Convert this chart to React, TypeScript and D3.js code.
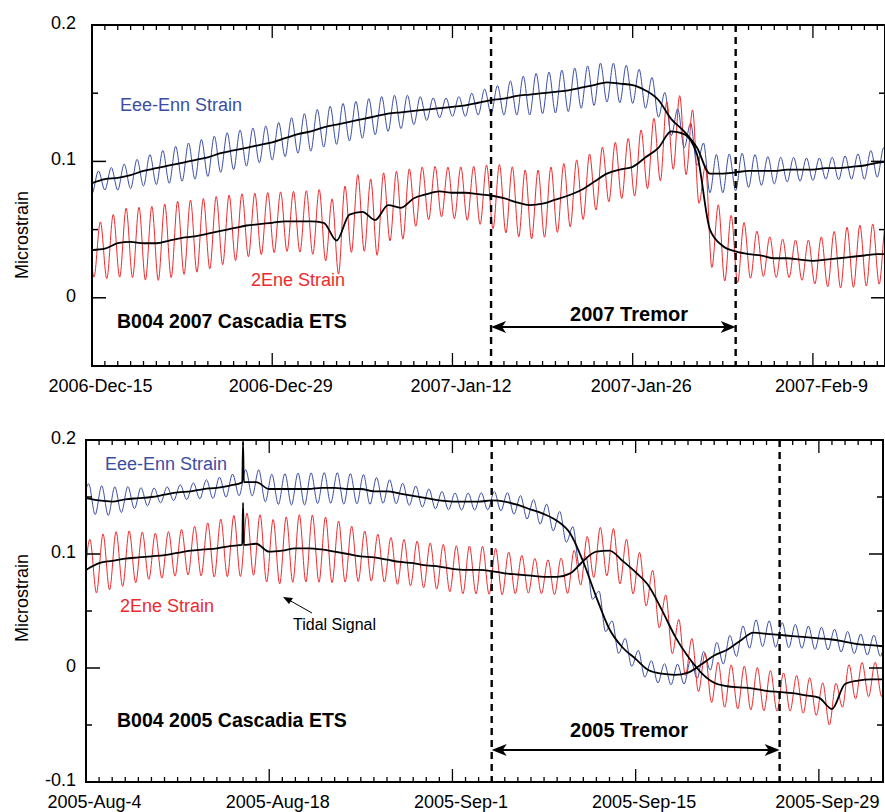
import React, { useEffect, useRef } from 'react'
import * as d3 from 'd3'

// all strain values in nanostrain (1e-3 microstrain), one value per day from the panel's first day

// 2007 panel, first day 2006-Dec-15
const eeTrend2007 = [
  84, 87, 88, 90, 93, 95, 97, 99, 101, 103,
  106, 108, 110, 112, 114, 117, 120, 122, 125, 127,
  129, 131, 133, 135, 136, 137, 138, 139, 140, 141,
  143, 145, 146, 148, 149, 150, 151, 152, 154, 156,
  158, 157, 156, 152, 145, 131, 122, 110, 91, 91,
  92, 93, 93, 93, 94, 94, 94, 95, 95, 96,
  97, 99, 100,
]
// tidal peak-to-trough range for each day
const eeRange2007 = [
  15, 16, 18, 20, 22, 24, 26, 27, 28, 28,
  28, 28, 27, 26, 26, 27, 28, 29, 29, 29,
  28, 28, 27, 26, 24, 20, 16, 14, 14, 16,
  18, 20, 24, 28, 30, 30, 31, 31, 30, 30,
  29, 28, 27, 26, 25, 24, 24, 26, 28, 28,
  27, 24, 21, 19, 18, 17, 16, 16, 17, 18,
  20, 21, 22,
]
const neTrend2007 = [
  35, 36, 40, 41, 40, 40, 42, 44, 45, 47,
  49, 51, 53, 54, 55, 56, 56, 56, 55, 42,
  61, 63, 57, 68, 66, 73, 76, 78, 77, 77,
  76, 75, 73, 70, 68, 69, 72, 75, 79, 85,
  91, 94, 96, 103, 110, 122, 120, 105, 50, 38,
  34, 32, 31, 29, 29, 28, 27, 28, 29, 30,
  31, 32, 32,
]
const neRange2007 = [
  40, 45, 50, 52, 54, 55, 55, 54, 53, 52,
  50, 48, 46, 45, 44, 44, 45, 48, 52, 55,
  56, 56, 55, 52, 48, 42, 38, 37, 38, 40,
  44, 48, 50, 50, 50, 50, 49, 47, 45, 43,
  42, 43, 45, 48, 52, 55, 55, 55, 52, 50,
  45, 35, 30, 28, 28, 30, 34, 40, 44, 45,
  45, 44, 44,
]

// 2005 panel, first day 2005-Aug-4
const eeTrend2005 = [
  149, 147, 146, 148, 149, 150, 152, 154, 155, 157,
  158, 160, 163, 163, 157, 157, 157, 157, 158, 158,
  157, 157, 155, 155, 153, 151, 149, 147, 146, 146,
  146, 147, 146, 143, 139, 135, 129, 118, 93, 62,
  34, 18, 8, -2, -5, -6, -4, 3, 11, 16,
  24, 31, 30, 29, 28, 27, 26, 25, 23, 21,
  20, 19,
]
const eeRange2005 = [
  26, 25, 22, 18, 15, 13, 13, 14, 16, 18,
  19, 22, 24, 26, 27, 28, 28, 27, 27, 27,
  26, 24, 21, 19, 18, 17, 16, 15, 15, 15,
  16, 17, 18, 19, 20, 21, 22, 22, 22, 21,
  20, 19, 18, 18, 18, 19, 20, 21, 22, 23,
  23, 23, 22, 21, 20, 20, 19, 19, 18, 18,
  18, 18,
]
const neTrend2005 = [
  86, 92, 94, 96, 97, 98, 99, 101, 103, 104,
  105, 107, 108, 109, 102, 103, 105, 105, 104, 102,
  100, 98, 97, 95, 93, 92, 90, 89, 87, 86,
  86, 85, 83, 82, 81, 80, 80, 83, 94, 102,
  103, 94, 84, 72, 51, 28, 10, -4, -13, -16,
  -17, -18, -20, -21, -22, -24, -26, -36, -14, -11,
  -10, -10,
]
const neRange2005 = [
  50, 50, 48, 44, 40, 40, 40, 42, 46, 50,
  53, 55, 55, 56, 58, 59, 59, 58, 55, 50,
  45, 42, 40, 40, 40, 40, 40, 41, 42, 42,
  41, 38, 34, 31, 30, 31, 34, 38, 42, 44,
  44, 42, 40, 40, 40, 40, 39, 38, 38, 38,
  38, 36, 34, 32, 32, 32, 32, 32, 31, 30,
  30, 30,
]
// instrument offset spike in the 2005 record
const spikeDays2005 = [12]
const eeSpike2005 = [198]
const neSpike2005 = [145]

const yTicks2007 = [-0.05, 0, 0.05, 0.1, 0.15, 0.2]
const yMajor2007 = [0, 0.1, 0.2]
const yTickLabels2007 = ['0', '0.1', '0.2']
const yTicks2005 = [-0.1, -0.05, 0, 0.05, 0.1, 0.15, 0.2]
const yMajor2005 = [-0.1, 0, 0.1, 0.2]
const yTickLabels2005 = ['-0.1', '0', '0.1', '0.2']

const tremor2007 = ['2007-01-15', '2007-02-03']
const tremor2005 = ['2005-09-04', '2005-09-26']

const BLUE = '#3b4ea3'
const RED = '#ee2a2e'
const FONT = '"Liberation Sans", Arial, Helvetica, sans-serif'
const DAY = 864e5

interface Series { trend: number[], range: number[], phase: number, spikeDays?: number[], spikes?: number[] }

interface PanelCfg {
  id: string
  start: Date
  spanDays: number
  left: number, right: number, top: number, bottom: number
  yDomain: [number, number]
  yTicks: number[]
  yMajor: number[]
  yLabels: string[]
  ee: Series
  ne: Series
  tremor: string[]
  tremorLabel: string
  arrowY: number
  tremorTextX: number
  tremorTextY: number
  title: string
  titleY: number
  eeLabel: [number, number]
  neLabel: [number, number]
  yTitleY: number
}

const utc = (s: string) => new Date(s + 'T00:00:00Z')

function drawPanel(svg: d3.Selection<SVGSVGElement, unknown, null, undefined>, p: PanelCfg) {
  const { left, right, top, bottom } = p
  const x = d3.scaleUtc().domain([p.start, new Date(+p.start + p.spanDays * DAY)]).range([left, right])
  const y = d3.scaleLinear().domain(p.yDomain).range([bottom, top])
  const tx = (t: number) => x(new Date(+p.start + t * DAY))

  const g = svg.append('g')
  g.append('clipPath').attr('id', 'clip-' + p.id)
    .append('rect').attr('x', left).attr('y', top).attr('width', right - left).attr('height', bottom - top)
  const plot = g.append('g').attr('clip-path', `url(#clip-${p.id})`)

  const line = d3.line<[number, number]>()
    .x(d => tx(d[0]))
    .y(d => y(d[1] / 1000))
    .curve(d3.curveMonotoneX)

  const tidal = (s: Series): [number, number][] => {
    const trendAt = d3.scaleLinear().domain(d3.range(s.trend.length)).range(s.trend).clamp(true)
    const pts: [number, number][] = []
    for (let i = -1; i <= s.trend.length; i++) {
      const r = s.range[Math.max(0, Math.min(s.range.length - 1, i))]
      const t0 = i + s.phase
      const t1 = t0 + 0.5
      pts.push([t0, trendAt(t0) - r / 2], [t1, trendAt(t1) + r / 2])
    }
    return pts
  }

  const trend = (s: Series): [number, number][] => {
    const trendAt = d3.scaleLinear().domain(d3.range(s.trend.length)).range(s.trend).clamp(true)
    const sd = s.spikeDays || []
    const pts: [number, number][] = s.trend
      .map((v, i) => [i, v] as [number, number])
      .filter(pt => !sd.includes(pt[0]))
    sd.forEach((d, k) => {
      pts.push([d - 0.06, trendAt(d - 0.06)], [d, s.spikes![k]], [d + 0.06, trendAt(d + 0.06)])
    })
    return pts.sort((a, b) => a[0] - b[0])
  }

  plot.append('path').attr('d', line(tidal(p.ee))).attr('fill', 'none').attr('stroke', BLUE).attr('stroke-width', 1)
  plot.append('path').attr('d', line(tidal(p.ne))).attr('fill', 'none').attr('stroke', RED).attr('stroke-width', 1)
  plot.append('path').attr('d', line(trend(p.ee))).attr('fill', 'none').attr('stroke', '#000').attr('stroke-width', 1.8)
  plot.append('path').attr('d', line(trend(p.ne))).attr('fill', 'none').attr('stroke', '#000').attr('stroke-width', 1.8)

  // frame
  g.append('rect').attr('x', left).attr('y', top).attr('width', right - left).attr('height', bottom - top)
    .attr('fill', 'none').attr('stroke', '#000').attr('stroke-width', 2)

  // x ticks: daily minor, two-weekly major
  const days = d3.utcDay.range(p.start, new Date(+p.start + p.spanDays * DAY))
  days.forEach((d, k) => {
    const xx = x(d)
    const len = k % 14 === 0 ? 13 : 5
    g.append('line').attr('x1', xx).attr('x2', xx).attr('y1', bottom).attr('y2', bottom - len)
      .attr('stroke', '#000').attr('stroke-width', 1.3)
    g.append('line').attr('x1', xx).attr('x2', xx).attr('y1', top).attr('y2', top + len)
      .attr('stroke', '#000').attr('stroke-width', 1.3)
    if (k % 14 === 0) {
      g.append('text').attr('x', xx + 8.5).attr('y', bottom + 26).attr('text-anchor', 'middle')
        .attr('font-family', FONT).attr('font-size', 18).text(d3.utcFormat('%Y-%b-%-d')(d))
    }
  })

  // y ticks on both sides
  p.yTicks.forEach(v => {
    const yy = y(v)
    const len = p.yMajor.some(m => Math.abs(m - v) < 1e-9) ? 14 : 6
    g.append('line').attr('x1', left).attr('x2', left + len).attr('y1', yy).attr('y2', yy)
      .attr('stroke', '#000').attr('stroke-width', 1.5)
    g.append('line').attr('x1', right).attr('x2', right - len).attr('y1', yy).attr('y2', yy)
      .attr('stroke', '#000').attr('stroke-width', 1.5)
  })
  p.yMajor.forEach((v, i) => {
    g.append('text').attr('x', 76).attr('y', y(v) + 4).attr('text-anchor', 'end')
      .attr('font-family', FONT).attr('font-size', 18).text(p.yLabels[i])
  })
  g.append('text').attr('transform', `translate(28,${p.yTitleY}) rotate(-90)`).attr('text-anchor', 'middle')
    .attr('font-family', FONT).attr('font-size', 18).text('Microstrain')

  // tremor window
  const t0 = x(utc(p.tremor[0]))
  const t1 = x(utc(p.tremor[1]))
  ;[t0, t1].forEach(xx => {
    g.append('line').attr('x1', xx).attr('x2', xx).attr('y1', top).attr('y2', bottom)
      .attr('stroke', '#000').attr('stroke-width', 2.4).attr('stroke-dasharray', '7,5')
  })
  g.append('line').attr('x1', t0 + 6).attr('x2', t1 - 6).attr('y1', p.arrowY).attr('y2', p.arrowY)
    .attr('stroke', '#000').attr('stroke-width', 1.8)
  g.append('path').attr('d', `M${t0},${p.arrowY} L${t0 + 15},${p.arrowY - 6} L${t0 + 11},${p.arrowY} L${t0 + 15},${p.arrowY + 6} Z`)
    .attr('fill', '#000')
  g.append('path').attr('d', `M${t1},${p.arrowY} L${t1 - 15},${p.arrowY - 6} L${t1 - 11},${p.arrowY} L${t1 - 15},${p.arrowY + 6} Z`)
    .attr('fill', '#000')
  g.append('text').attr('x', p.tremorTextX).attr('y', p.tremorTextY).attr('text-anchor', 'middle')
    .attr('font-family', FONT).attr('font-size', 20).attr('font-weight', 'bold').text(p.tremorLabel)

  g.append('text').attr('x', 117).attr('y', p.titleY).attr('font-family', FONT).attr('font-size', 19.5)
    .attr('font-weight', 'bold').text(p.title)
  g.append('text').attr('x', p.eeLabel[0]).attr('y', p.eeLabel[1]).attr('font-family', FONT).attr('font-size', 18)
    .attr('fill', BLUE).text('Eee-Enn Strain')
  g.append('text').attr('x', p.neLabel[0]).attr('y', p.neLabel[1]).attr('font-family', FONT).attr('font-size', 18)
    .attr('fill', RED).text('2Ene Strain')
}

export default function App() {
  const ref = useRef<SVGSVGElement>(null)

  useEffect(() => {
    const svg = d3.select(ref.current!)
    svg.selectAll('*').remove()
    svg.append('rect').attr('width', 885).attr('height', 812).attr('fill', '#fff')

    drawPanel(svg, {
      id: 'p2007', start: utc('2006-12-15'), spanDays: 61.6,
      left: 92, right: 885, top: 25, bottom: 366,
      yDomain: [-0.05, 0.2], yTicks: yTicks2007, yMajor: yMajor2007, yLabels: yTickLabels2007,
      ee: { trend: eeTrend2007, range: eeRange2007, phase: 0.0 },
      ne: { trend: neTrend2007, range: neRange2007, phase: 0.15 },
      tremor: tremor2007, tremorLabel: '2007 Tremor', arrowY: 327, tremorTextX: 629, tremorTextY: 321,
      title: 'B004 2007 Cascadia ETS', titleY: 328,
      eeLabel: [120, 111], neLabel: [251, 286], yTitleY: 235,
    })

    drawPanel(svg, {
      id: 'p2005', start: utc('2005-08-04'), spanDays: 60.9,
      left: 86, right: 883, top: 440, bottom: 782,
      yDomain: [-0.1, 0.2], yTicks: yTicks2005, yMajor: yMajor2005, yLabels: yTickLabels2005,
      ee: { trend: eeTrend2005, range: eeRange2005, phase: 0.7, spikeDays: spikeDays2005, spikes: eeSpike2005 },
      ne: { trend: neTrend2005, range: neRange2005, phase: 0.8, spikeDays: spikeDays2005, spikes: neSpike2005 },
      tremor: tremor2005, tremorLabel: '2005 Tremor', arrowY: 750, tremorTextX: 629, tremorTextY: 737,
      title: 'B004 2005 Cascadia ETS', titleY: 727,
      eeLabel: [105, 470], neLabel: [120, 612], yTitleY: 598,
    })

    // tidal signal annotation
    svg.append('line').attr('x1', 312).attr('y1', 613).attr('x2', 289).attr('y2', 600)
      .attr('stroke', '#000').attr('stroke-width', 1)
    svg.append('path').attr('d', 'M283,597 L293,598 L289,604 Z').attr('fill', '#000')
    svg.append('text').attr('x', 293).attr('y', 630).attr('font-family', FONT).attr('font-size', 16)
      .text('Tidal Signal')
  }, [])

  return (
    <svg ref={ref} width={885} height={812}
      style={{ position: 'absolute', left: 0, top: 0, display: 'block' }} />
  )
}
